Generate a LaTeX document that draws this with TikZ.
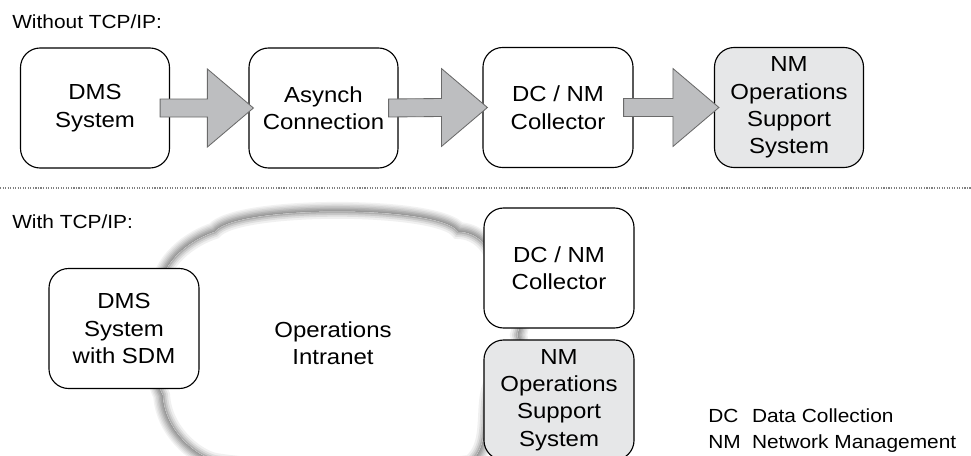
\documentclass[tikz,border=0pt]{standalone}
\usepackage{fontspec}
\setmainfont{Liberation Sans}[FakeStretch=1.1]
\definecolor{arrowgray}{HTML}{BDBEC0}
\definecolor{arrowedge}{HTML}{6A6A6A}
\definecolor{ossgray}{HTML}{E6E7E8}
% outline of the intranet cloud (pixel units of the picture)
\newcommand{\intranetpath}{(160,290) .. controls (162,262) and (190,240) .. (215,232)
  .. controls (235,205) and (440,205) .. (458,232)
  .. controls (475,232) and (490,245) .. (495,265)
  .. controls (520,275) and (525,310) .. (517,335)
  .. controls (525,355) and (495,365) .. (488,390)
  .. controls (482,415) and (490,445) .. (470,462)
  .. controls (400,470) and (280,470) .. (215,460)
  .. controls (195,455) and (165,430) .. (163,395)
  .. controls (150,370) and (150,310) .. (160,290) -- cycle}

\begin{document}
\begin{tikzpicture}[x=0.025cm,y=-0.025cm,
  box/.style={draw,line width=.8pt,rounded corners=14pt,fill=white,align=center,
    minimum width=3.725cm,minimum height=3cm,inner sep=0pt,
    font=\fontsize{15.5}{19.5}\selectfont},
  ossbox/.style={box,fill=ossgray},
  fatarrow/.style={fill=arrowgray,draw=arrowedge,line width=.6pt,line join=miter},
  heading/.style={anchor=base west,inner sep=0pt,font=\fontsize{13.5}{18.5}\selectfont}]
\useasboundingbox (0,0) rectangle (971,455);
\clip (0,0) rectangle (971,455);
% without TCP/IP
\node[heading] (title1) at (12,28) {Without TCP/IP:};
\node[box] (dms) at (95,108) {DMS\\System};
\node[box] (async) at (323.5,108) {Asynch\\Connection};
\node[box,minimum width=3.75cm] (dcnm) at (558,107.5) {DC / NM\\Collector};
\node[ossbox] (oss) at (789,107.5) {NM\\Operations\\Support\\System};
\foreach \src/\dst in {dms/async,async/dcnm,dcnm/oss}
  \draw[fatarrow] ([shift={(-10,-9)}]\src.east) -- ([shift={(-41,-9)}]\dst.west)
    -- ([shift={(-41,-39)}]\dst.west) -- ([shift={(5,0)}]\dst.west)
    -- ([shift={(-41,39)}]\dst.west) -- ([shift={(-41,9)}]\dst.west)
    -- ([shift={(-10,9)}]\src.east) -- cycle;
\draw[gray,line width=.8pt,dash pattern=on .8pt off 1pt] (0,188) -- (971,188);
% with TCP/IP
\node[heading] (title2) at (12,228) {With TCP/IP:};
% soft edge of the cloud
\foreach \w/\g in {14/5,12/10,10/16,8/22,6/29,4/35,2/40}
  \draw[black!\g,line width=\w pt] \intranetpath;
\fill[white] \intranetpath;
\begin{scope}
  \clip \intranetpath;
  \foreach \w/\g in {10/6,7/13,4.5/21,2/31}
    \draw[black!\g,line width=\w pt] \intranetpath;
\end{scope}
\node[align=center,font=\fontsize{15.5}{19.5}\selectfont] (net) at (333,343) {Operations\\Intranet};
\node[box,minimum width=3.75cm] (sdm) at (124,328.5) {DMS\\System\\with SDM};
\node[box,minimum width=3.75cm] (dcnm2) at (559,268) {DC / NM\\Collector};
\node[ossbox,minimum width=3.75cm] (oss2) at (559,400) {NM\\Operations\\Support\\System};
\node[heading] (legend) at (708,422) {\begin{tabular}[t]{@{}l@{\hspace{8pt}}l@{}}
  DC & Data Collection\\
  NM & Network Management
\end{tabular}};
\end{tikzpicture}
\end{document}
